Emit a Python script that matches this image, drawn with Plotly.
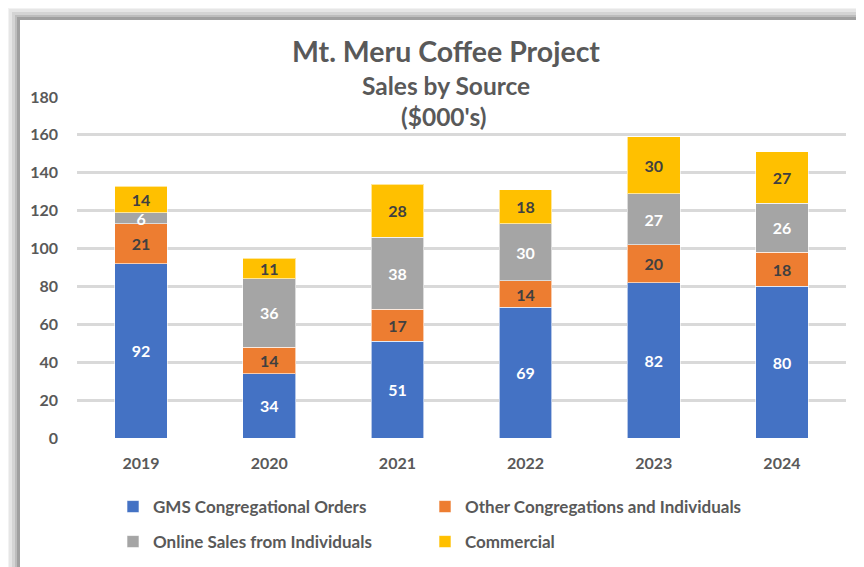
import plotly.graph_objects as go

years = ["2019", "2020", "2021", "2022", "2023", "2024"]
gms = [92, 34, 51, 69, 82, 80]
other = [21, 14, 17, 14, 20, 18]
online = [6, 36, 38, 30, 27, 26]
commercial = [14, 11, 28, 18, 30, 27]

series = [
    ("GMS Congregational Orders", gms, "#4472C4", "white", "legend"),
    ("Other Congregations and Individuals", other, "#ED7D31", "#404040", "legend2"),
    ("Online Sales from Individuals", online, "#A5A5A5", "white", "legend3"),
    ("Commercial", commercial, "#FFC000", "#404040", "legend4"),
]

FONT = "Lato"
TXT = "#595959"

OFF = 8  # page offset of the figure inside the window
W, H = 864 - OFF, 567 - OFF
# target positions in window pixels
PL, PR, PT, PB = 77, 846, 97, 438
L, T = PL - OFF, PT - OFF
R = W - (PR - OFF)
B = H - (PB - OFF)
PW, PH = W - L - R, H - T - B


def px(x):
    return (x - OFF - L) / PW


def py(y):
    return (H - B - (y - OFF)) / PH


fig = go.Figure()
for name, vals, color, tcol, lg in series:
    fig.add_trace(go.Bar(
        x=years, y=vals, name=name, legend=lg,
        marker=dict(color=color, line=dict(color="rgba(255,255,255,0.6)", width=1)),
        text=[str(v) for v in vals],
        textposition="inside", insidetextanchor="middle", textangle=0,
        constraintext="none",
        textfont=dict(family=FONT, size=16, color=tcol, weight="bold"),
        cliponaxis=False,
    ))

shapes = []
for off, col in [(6, "#f2f2f2"), (9, "#e6e6e6"), (12, "#d4d4d4"), (15, "#bdbdbd"), (17, "#a0a0a0"), (20, "#ffffff")]:
    shapes.append(dict(type="rect", xref="paper", yref="paper",
                       x0=px(off), x1=px(900), y0=py(off), y1=py(620),
                       fillcolor=col, line=dict(width=0), layer="below"))

legfont = dict(family=FONT, size=17, color=TXT, weight="bold")
common_leg = dict(orientation="h", xanchor="left", yanchor="middle", font=legfont,
                  bgcolor="rgba(0,0,0,0)")

fig.update_layout(
    width=W, height=H,
    margin=dict(l=L, r=R, t=T, b=B, autoexpand=False),
    paper_bgcolor="white", plot_bgcolor="rgba(0,0,0,0)",
    barmode="stack", bargap=0.59,
    shapes=shapes,
    font=dict(family=FONT, color=TXT),
    showlegend=True,
    legend=dict(x=px(113), y=py(507), **common_leg),
    legend2=dict(x=px(425), y=py(507), **common_leg),
    legend3=dict(x=px(113), y=py(542), **common_leg),
    legend4=dict(x=px(425), y=py(542), **common_leg),
    annotations=[
        dict(text="<b>Mt. Meru Coffee Project</b>", x=px(446), y=py(51), xref="paper", yref="paper",
             yanchor="middle", showarrow=False, font=dict(family=FONT, size=28.5, color=TXT)),
        dict(text="<b>Sales by Source</b>", x=px(446), y=py(85), xref="paper", yref="paper",
             yanchor="middle", showarrow=False, font=dict(family=FONT, size=24.5, color=TXT)),
        dict(text="<b>($000's)</b>", x=px(443), y=py(117), xref="paper", yref="paper",
             yanchor="middle", showarrow=False, font=dict(family=FONT, size=24.5, color=TXT)),
    ],
    xaxis=dict(showline=False, ticks="", tickfont=dict(family=FONT, size=16, color=TXT, weight="bold"),
               showgrid=False, ticklabelstandoff=14),
    yaxis=dict(range=[0, 180], dtick=20, showline=False, zeroline=False,
               gridcolor="#d9d9d9", gridwidth=2.5, ticks="", ticklabelstandoff=18,
               tickfont=dict(family=FONT, size=16, color=TXT, weight="bold")),
)

fig.write_html("out.html")
